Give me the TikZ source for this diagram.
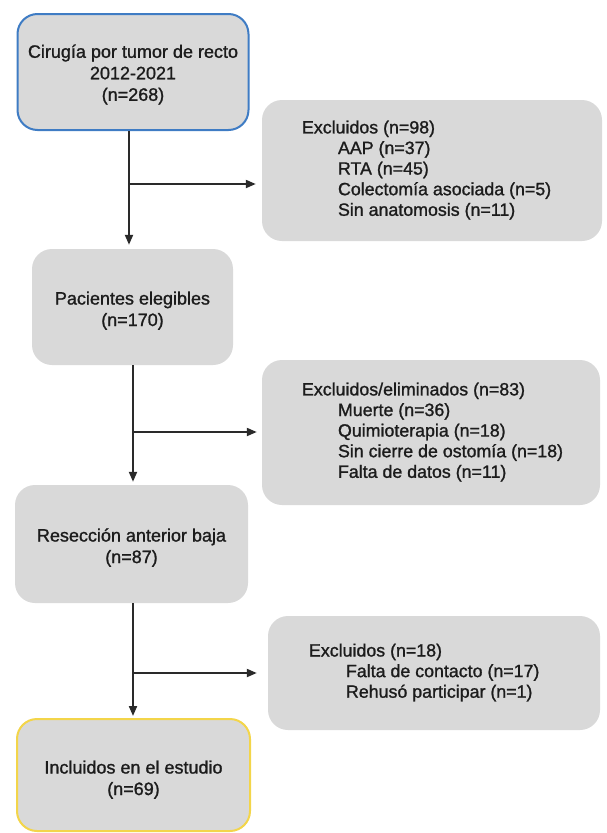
\documentclass[tikz,border=0pt]{standalone}
\usepackage{fontspec}
\setmainfont{Liberation Sans}[FakeBold=1.2]
\usetikzlibrary{arrows.meta}
\definecolor{boxgray}{HTML}{D9D9D9}
\definecolor{bordblue}{HTML}{3F7CC4}
\definecolor{bordyellow}{HTML}{F3D54A}
\definecolor{linegray}{HTML}{2A2A2A}
\definecolor{txt}{HTML}{1C1C1C}
\newcommand{\ctext}[2][4pt]{\raisebox{-#1}[\height][\depth]{\begin{tabular}{@{}c@{}}#2\end{tabular}}}
\newcommand{\ltext}[2]{\makebox[#1][l]{\begin{tabular}{@{}l@{}}#2\end{tabular}}}
\newcommand{\ind}{\hspace*{36pt}}
\begin{document}
\begin{tikzpicture}[x=1pt,y=-1pt,
  box/.style={fill=boxgray, rounded corners=20pt, inner sep=0pt, text=txt,
    font=\fontsize{18}{21.5}\selectfont},
  listbox/.style={box, font=\fontsize{17.8}{20.6}\selectfont},
  arr/.style={draw=linegray, line width=2pt, -{Triangle[length=10pt,width=8pt]}}
]
\useasboundingbox (0,0) rectangle (606,833);
% main column
\node[box, draw=bordblue, line width=2pt, minimum width=231pt, minimum height=116pt] (b1) at (133,72)
  {\ctext[3pt]{Cirugía por tumor de recto\\2012-2021\\(n=268)}};
\node[box, minimum width=201pt, minimum height=116pt] (b3) at (132.5,307)
  {\ctext[4pt]{Pacientes elegibles\\(n=170)}};
\node[box, minimum width=233pt, minimum height=118pt] (b5) at (131.5,544)
  {\ctext[4pt]{Resección anterior baja\\(n=87)}};
\node[box, draw=bordyellow, line width=2pt, minimum width=233pt, minimum height=112pt] (b7) at (133.5,775)
  {\ctext[5pt]{Incluidos en el estudio\\(n=69)}};
% side boxes
\node[listbox, minimum width=340pt, minimum height=141pt] (b2) at (432,170.5)
  {\ltext{260pt}{Excluidos (n=98)\\
   \ind AAP (n=37)\\
   \ind RTA (n=45)\\
   \ind Colectomía asociada (n=5)\\
   \ind Sin anatomosis (n=11)}};
\node[listbox, minimum width=338pt, minimum height=145pt] (b4) at (431,432.5)
  {\ltext{258pt}{Excluidos/eliminados (n=83)\\
   \ind Muerte (n=36)\\
   \ind Quimioterapia (n=18)\\
   \ind Sin cierre de ostomía (n=18)\\
   \ind Falta de datos (n=11)}};
\node[listbox, minimum width=332pt, minimum height=114pt] (b6) at (434,673)
  {\ltext{250pt}{Excluidos (n=18)\\
   \hspace*{37pt}Falta de contacto (n=17)\\
   \hspace*{37pt}Rehusó participar (n=1)}};
% connectors
\coordinate (j1) at (129,184);
\coordinate (j2) at (133,432);
\coordinate (j3) at (133,673);
\draw[arr, shorten >=4pt] (j1 |- b1.south) -- (j1 |- b3.north);
\draw[arr, shorten >=6pt] (j1) -- (j1 -| b2.west);
\draw[arr, shorten >=3pt] (j2 |- b3.south) -- (j2 |- b5.north);
\draw[arr, shorten >=5pt] (j2) -- (j2 -| b4.west);
\draw[arr, shorten >=2pt] (j3 |- b5.south) -- (j3 |- b7.north);
\draw[arr, shorten >=11pt] (j3) -- (j3 -| b6.west);
\end{tikzpicture}
\end{document}
